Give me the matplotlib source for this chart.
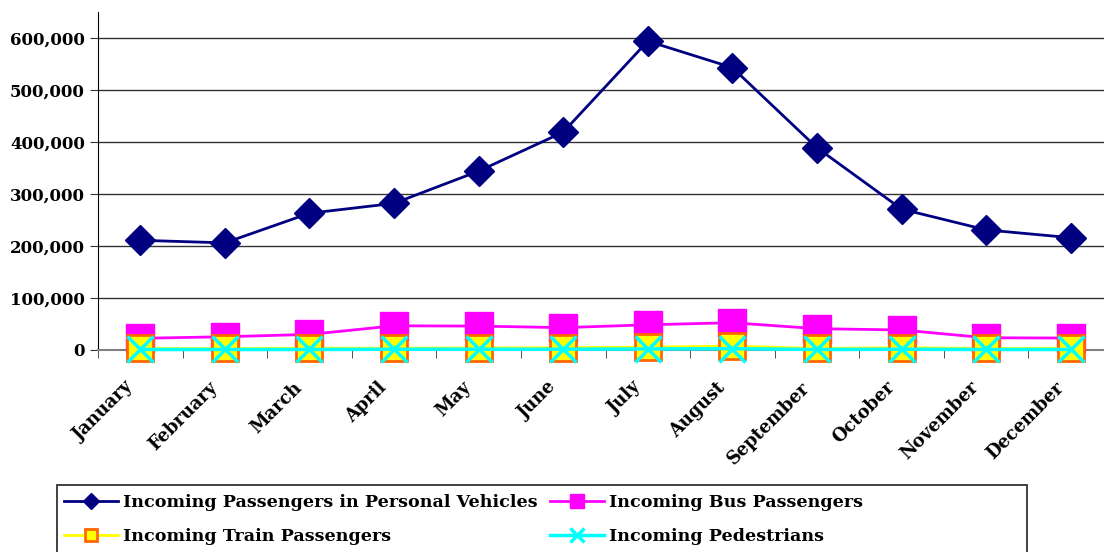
import numpy as np
import matplotlib
matplotlib.use('Agg')
import matplotlib.pyplot as plt
import matplotlib.transforms as mtransforms
from matplotlib.patches import Rectangle
from matplotlib.ticker import FuncFormatter

months = ['January', 'February', 'March', 'April', 'May', 'June', 'July',
          'August', 'September', 'October', 'November', 'December']
personal = [211000, 206000, 263000, 282000, 344000, 419000, 594000,
            543000, 389000, 271000, 231000, 216000]
bus = [22500, 25500, 30000, 46500, 46000, 43000, 48500,
       52500, 41000, 38500, 23500, 23000]
train = [3000, 3000, 3500, 3500, 4000, 4500, 5500,
         7500, 3000, 4500, 3000, 3500]
pedestrians = [1000, 1000, 1000, 1500, 1500, 1500, 2000,
               2500, 1000, 1500, 1000, 1000]

plt.rcParams['font.family'] = 'DejaVu Serif'
plt.rcParams['font.weight'] = 'bold'

fig = plt.figure(figsize=(11.04, 5.52), dpi=100)
ax = fig.add_axes([98 / 1104, 202 / 552, 1015 / 1104, 338 / 552])

x = np.arange(len(months))
h1, = ax.plot(x, personal, color='#000080', lw=2, marker='D', ms=15.5,
              clip_on=False, zorder=5, label='Incoming Passengers in Personal Vehicles')
h2, = ax.plot(x, bus, color='#FF00FF', lw=2, marker='s', ms=20,
              clip_on=False, zorder=6, label='Incoming Bus Passengers')
h3, = ax.plot(x, train, color='#FFFF00', lw=2, marker='s', ms=18.5,
              markerfacecolor='#FFFF00', markeredgecolor='#FF6600', mew=2,
              clip_on=False, zorder=7, label='Incoming Train Passengers')
h4, = ax.plot(x, pedestrians, color='#00FFFF', lw=2.5, marker='x', ms=19, mew=2.5,
              clip_on=False, zorder=8, label='Incoming Pedestrians')

ax.set_xlim(-0.5, 11.5)
ax.set_ylim(0, 650000)
ax.set_yticks(range(0, 600001, 100000))
ax.yaxis.set_major_formatter(FuncFormatter(lambda v, p: f'{int(v):,}'))
ax.grid(axis='y', color='#333333', lw=1)
ax.set_axisbelow(True)

ax.set_xticks(x)
ax.set_xticklabels(months, rotation=45, ha='right', va='center',
                   rotation_mode='anchor', fontsize=12.8)
ax.set_xticks(np.arange(-0.5, 12, 1), minor=True)
ax.tick_params(axis='x', which='major', length=0, pad=25)
ax.tick_params(axis='x', which='minor', length=6, color='#333333')
ax.tick_params(axis='y', length=6, labelsize=12, color='#333333')

# nudge month labels a little to the left, like the original
shift = mtransforms.ScaledTranslation(-10 / 100, 0, fig.dpi_scale_trans)
for lbl in ax.get_xticklabels():
    lbl.set_transform(lbl.get_transform() + shift)

for s in ['top', 'right']:
    ax.spines[s].set_visible(False)
ax.spines['bottom'].set_color('#808080')
ax.spines['bottom'].set_linewidth(1.5)
ax.spines['left'].set_color('black')

fig.legend(handles=[h1, h3, h2, h4], loc='upper left',
           bbox_to_anchor=(64 / 1104, 1 - 494 / 552),
           ncol=2, frameon=False, fontsize=12.6, markerscale=0.5,
           handlelength=3.1, handletextpad=0.28, columnspacing=0.7,
           labelspacing=0.95, borderpad=0, borderaxespad=0)
fig.patches.append(Rectangle((57 / 1104, -0.1), 970 / 1104, 67 / 552 + 0.1,
                             transform=fig.transFigure, fill=False,
                             edgecolor='#333333', lw=1.3))

fig.savefig('out.png', dpi=100)
